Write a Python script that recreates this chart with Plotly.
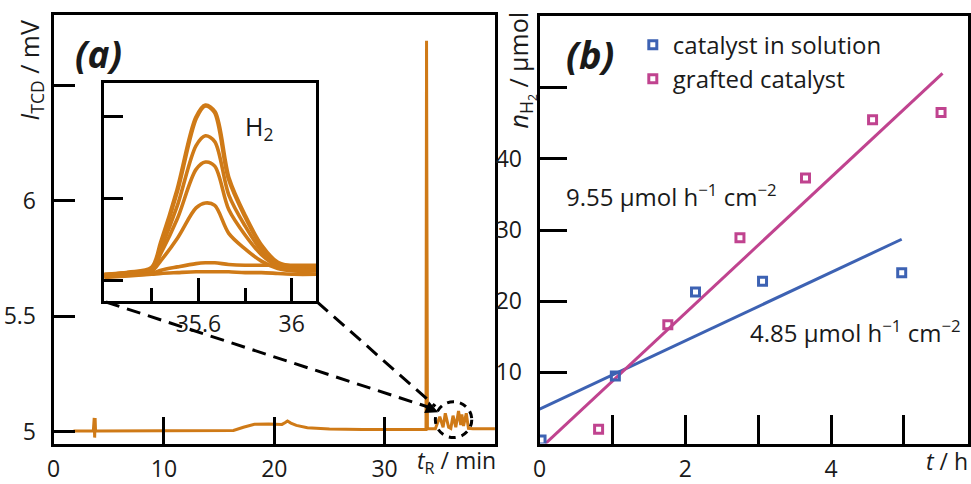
import plotly.graph_objects as go

W, H = 971, 484
FONT = "Open Sans"
ORANGE = "#cf7a17"
BLUE = "#3d62b3"
MAGENTA = "#c0438f"
INK = "#1a1a1a"

# ---------------- panel (a): full chromatogram ----------------
chrom_t = [1.8, 3.6, 3.68, 3.72, 3.76, 3.8, 3.9, 8.0, 12.0, 16.3, 17.2, 18.2, 19.5, 20.3, 20.7,
           21.0, 21.2, 21.5, 22.0, 23.0, 25.0, 28.0, 33.6, 33.75, 33.8, 33.88, 34.2, 34.6,
           35.0, 35.3, 35.5, 35.8, 36.0, 36.2, 36.45, 36.7, 36.9, 37.0, 37.15, 37.4, 37.6, 38.0, 40.0]
chrom_v = [5.003, 5.003, 5.06, 4.975, 5.06, 5.003, 5.003, 5.004, 5.005, 5.006, 5.02, 5.033, 5.034,
           5.033, 5.032, 5.04, 5.047, 5.038, 5.028, 5.018, 5.012, 5.010, 5.010, 5.010, 6.693, 5.013,
           5.013, 5.013, 5.065, 5.02, 5.08, 5.02, 5.015, 5.07, 5.02, 5.09, 5.03, 5.075, 5.025, 5.08,
           5.015, 5.013, 5.013]

# ---------------- inset: H2 peaks ----------------
inset_t = [35.196, 35.3, 35.4, 35.44, 35.51, 35.59, 35.63, 35.67, 35.73, 35.8, 35.87, 35.94, 36.01, 36.106]
h2_peaks = [
    [0.07, 0.10, 0.16, 0.47, 1.11, 1.99, 2.14, 2.06, 1.25, 0.79, 0.43, 0.22, 0.17, 0.16],
    [0.07, 0.10, 0.15, 0.40, 0.92, 1.65, 1.77, 1.70, 1.05, 0.67, 0.37, 0.20, 0.15, 0.14],
    [0.08, 0.10, 0.14, 0.34, 0.76, 1.36, 1.45, 1.40, 0.87, 0.56, 0.32, 0.18, 0.14, 0.13],
    [0.06, 0.09, 0.12, 0.25, 0.52, 0.89, 0.95, 0.92, 0.58, 0.39, 0.24, 0.15, 0.12, 0.12],
    [0.05, 0.07, 0.09, 0.13, 0.17, 0.21, 0.22, 0.22, 0.20, 0.19, 0.19, 0.19, 0.19, 0.19],
    [0.04, 0.06, 0.08, 0.09, 0.10, 0.11, 0.11, 0.11, 0.11, 0.10, 0.10, 0.09, 0.08, 0.08],
]

# ---------------- panel (b): H2 evolution ----------------
sol_t = [0.02, 1.04, 2.14, 3.06, 4.97]
sol_n = [0.5, 9.5, 21.3, 22.8, 24.0]
graft_t = [0.81, 1.76, 2.75, 3.65, 4.57, 5.51]
graft_n = [2.0, 16.7, 28.9, 37.3, 45.5, 46.5]
sol_fit_t = [0.0, 4.97]
sol_fit_n = [4.85, 28.7]
graft_fit_t = [0.08, 5.53]
graft_fit_n = [0.0, 52.0]
rate_labels = ["9.55 µmol h<sup>−1</sup> cm<sup>−2</sup>", "4.85 µmol h<sup>−1</sup> cm<sup>−2</sup>"]
series_names = ["catalyst in solution", "grafted catalyst"]


def px_x(p):
    return p / W


def px_y(p):
    return 1 - p / H


fig = go.Figure()

fig.add_trace(go.Scatter(x=chrom_t, y=chrom_v, mode="lines", line=dict(color=ORANGE, width=3),
                         xaxis="x", yaxis="y", showlegend=False, hoverinfo="skip"))
for i, pk in enumerate(h2_peaks):
    fig.add_trace(go.Scatter(x=inset_t, y=pk, mode="lines",
                             line=dict(color=ORANGE, width=4.5 if i == 0 else 3.6, shape="spline", smoothing=0.9),
                             xaxis="x2", yaxis="y2", showlegend=False, hoverinfo="skip"))

fig.add_trace(go.Scatter(x=sol_fit_t, y=sol_fit_n, mode="lines", line=dict(color=BLUE, width=3),
                         xaxis="x3", yaxis="y3", showlegend=False))
fig.add_trace(go.Scatter(x=graft_fit_t, y=graft_fit_n, mode="lines", line=dict(color=MAGENTA, width=3),
                         xaxis="x3", yaxis="y3", showlegend=False))
fig.add_trace(go.Scatter(x=sol_t, y=sol_n, mode="markers", name=series_names[0], legendgroup="a",
                         marker=dict(symbol="square-open", size=8, color=BLUE, line=dict(width=3, color=BLUE)),
                         xaxis="x3", yaxis="y3"))
fig.add_trace(go.Scatter(x=graft_t, y=graft_n, mode="markers", name=series_names[1], legendgroup="b",
                         marker=dict(symbol="square-open", size=8, color=MAGENTA, line=dict(width=3, color=MAGENTA)),
                         xaxis="x3", yaxis="y3"))

frame = dict(showline=True, linewidth=3, linecolor="black", mirror=True, showgrid=False, zeroline=False,
             ticks="inside", tickwidth=3, tickcolor="black", tickfont=dict(family=FONT, size=23, color=INK))

fig.update_layout(
    xaxis=dict(frame, domain=[px_x(47), px_x(492)], range=[0, 40], tickvals=[0, 10, 20, 30],
               ticktext=["0", "10", "20", "30"], ticklen=27, anchor="y", ticklabelstandoff=3),
    yaxis=dict(frame, domain=[px_y(452), px_y(15)], range=[4.949, 6.806], tickvals=[5, 5.5, 6, 6.5],
               ticktext=["5", "5.5", "6", ""], ticklen=21, anchor="x", ticklabelstandoff=10),
    xaxis2=dict(frame, domain=[px_x(98), px_x(312)], range=[35.196, 36.106], tickvals=[35.6, 36.0],
                ticktext=["35.6", "36"], ticklen=23, anchor="y2",
                minor=dict(tickvals=[35.4, 35.8], ticklen=13, tickwidth=3, tickcolor="black", ticks="inside")),
    yaxis2=dict(frame, domain=[px_y(307), px_y(85)], range=[-0.25, 2.41], tickvals=[0, 1, 2],
                showticklabels=False, ticklen=19, anchor="x2"),
    xaxis3=dict(frame, domain=[px_x(537), px_x(969)], range=[0, 5.88], tickvals=[0, 1, 2, 3, 4, 5],
                ticktext=["0", "", "2", "", "4", ""], ticklen=29, anchor="y3", ticklabelstandoff=3),
    yaxis3=dict(frame, domain=[px_y(452), px_y(16)], range=[0, 60.1], tickvals=[0, 10, 20, 30, 40, 50],
                ticktext=["", "10", "20", "30", "40", ""], ticklen=27, anchor="x3", ticklabelstandoff=10),
)

# dashed zoom guides (panel a data coords)
dash_line = dict(color="black", width=3, dash="14px,8px")
fig.add_shape(type="line", xref="x", yref="y", x0=4.75, y0=5.562, x1=34.55, y1=5.098, line=dash_line)
fig.add_shape(type="line", xref="x", yref="y", x0=23.9, y0=5.562, x1=34.6, y1=5.11, line=dash_line)
fig.add_shape(type="circle", xref="x", yref="y", x0=34.6, x1=37.9, y0=4.975, y1=5.13,
              line=dict(color="black", width=3, dash="7px,6px"))
fig.add_annotation(x=34.85, y=5.085, xref="x", yref="y", ax=-14, ay=-6, showarrow=True,
                   arrowhead=2, arrowsize=1, arrowwidth=2.5, arrowcolor="black", text="")

ann = []
ann.append(dict(text="<b><i>(a)</i></b>", x=px_x(92), y=px_y(55), font=dict(size=37)))
ann.append(dict(text="<b><i>(b)</i></b>", x=px_x(588), y=px_y(55), font=dict(size=38)))
ann.append(dict(text="H<sub>2</sub>", x=px_x(254), y=px_y(130), font=dict(size=25)))
ann.append(dict(text="<i>I</i><sub>TCD</sub> / mV", x=px_x(24), y=px_y(72), textangle=-90, font=dict(size=25)))
ann.append(dict(text="<i>n</i><sub>H<sub>2</sub></sub> / µmol", x=px_x(518), y=px_y(72), textangle=-90,
                font=dict(size=25)))
ann.append(dict(text="<i>t</i><sub>R</sub> / min", x=px_x(453), y=px_y(470), font=dict(size=23)))
ann.append(dict(text="<i>t</i> / h", x=px_x(948), y=px_y(470), font=dict(size=23)))
for a in ann:
    a.update(xref="paper", yref="paper", showarrow=False, xanchor="center", yanchor="middle")
    a["font"].update(family=FONT, color=INK)
    fig.add_annotation(**a)

fig.add_annotation(text=rate_labels[0], x=0.33, y=34.9, xref="x3", yref="y3", showarrow=False,
                   xanchor="left", yanchor="middle", font=dict(family=FONT, size=24, color=INK))
fig.add_annotation(text=rate_labels[1], x=2.86, y=15.8, xref="x3", yref="y3", showarrow=False,
                   xanchor="left", yanchor="middle", font=dict(family=FONT, size=24, color=INK))

fig.update_layout(
    width=W, height=H, autosize=False, margin=dict(l=0, r=0, t=0, b=0),
    paper_bgcolor="white", plot_bgcolor="white",
    font=dict(family=FONT, size=23, color=INK),
    showlegend=True,
    legend=dict(x=px_x(631), y=px_y(23), xanchor="left", yanchor="top", bgcolor="rgba(0,0,0,0)",
                font=dict(family=FONT, size=24, color=INK), tracegroupgap=0, traceorder="grouped",
                itemwidth=30),
)

fig.write_html("out.html", config={"displayModeBar": False},
               post_script="document.body.style.margin='0px';document.body.style.overflow='hidden';")
